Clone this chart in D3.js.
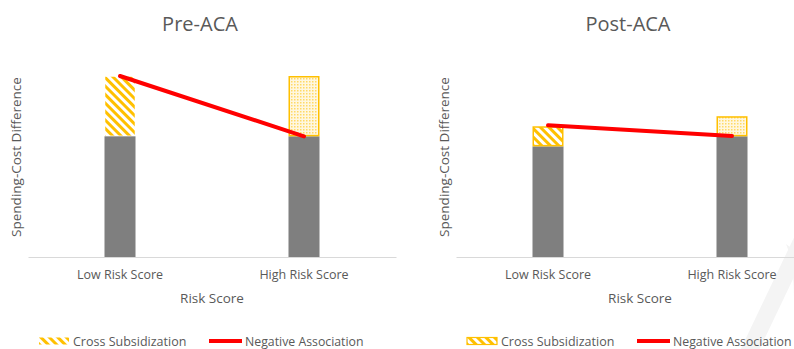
<!DOCTYPE html>
<html>
<head>
<meta charset="utf-8">
<script src="https://cdn.jsdelivr.net/npm/d3@7"></script>
<style>
  body { margin: 0; background: #fff; }
  text { font-family: "Open Sans", sans-serif; fill: #595959; }
</style>
</head>
<body>
<div id="container"></div>
<script>
/* DATA */
const categories = ["Low Risk Score", "High Risk Score"];
const titles = ["Pre-ACA", "Post-ACA"];
const preBase = [6, 6];          // gray part
const preTop = [9, 9];           // top of the patterned part
const preLine = [9, 6];          // negative association line
const postBase = [5.5, 6];
const postTop = [6.5, 7];
const postLine = [6.55, 6.02];
const legendLabels = ["Cross Subsidization", "Negative Association"];

/* CONSTANTS */
const width = 794, height = 349,
  colors = { gray: '#7f7f7f', gold: '#FFC000', red: '#FF0000', axis: '#d9d9d9' };

const svg = d3.select("#container")
  .append("svg")
  .attr("width", width)
  .attr("height", height);

// patterns
const defs = svg.append("defs");
const stripes = defs.append("pattern")
  .attr("id", "stripes")
  .attr("patternUnits", "userSpaceOnUse")
  .attr("width", 6).attr("height", 6)
  .attr("patternTransform", "rotate(-45)");
stripes.append("rect").attr("width", 6).attr("height", 6).attr("fill", "#fff");
stripes.append("rect").attr("width", 3).attr("height", 6).attr("fill", colors.gold);

const dots = defs.append("pattern")
  .attr("id", "dots")
  .attr("patternUnits", "userSpaceOnUse")
  .attr("width", 3).attr("height", 3);
dots.append("rect").attr("width", 3).attr("height", 3).attr("fill", "#fff7e0");
dots.append("rect").attr("width", 1.5).attr("height", 1.5).attr("fill", "#ffd966");

// faint watermark in the corner
svg.append("line")
  .attr("x1", 745).attr("y1", 360).attr("x2", 806).attr("y2", 232)
  .attr("stroke", "#f4f4f4").attr("stroke-width", 17);
svg.append("path")
  .attr("d", "M786,244 Q794,262 794,300 L794,250 Z")
  .attr("fill", "#f4f4f4");

const yScale = d3.scaleLinear().domain([0, 9]).range([257, 76]);

function drawPanel(dx, title, base, top, line, stripeBorder) {
  const g = svg.append("g").attr("transform", `translate(${dx},0)`);

  const xScale = d3.scaleBand()
    .domain(categories)
    .range([28, 396])
    .padding(0);

  const xAxis = d3.axisBottom(xScale).tickSize(0).tickSizeOuter(0);
  const ax = g.append("g")
    .attr("transform", `translate(0,${yScale(0)})`)
    .call(xAxis);
  ax.select(".domain").attr("stroke", colors.axis).attr("stroke-width", 1.2);
  ax.selectAll("text")
    .attr("dy", 0).attr("y", 22)
    .style("font-family", '"Open Sans", sans-serif')
    .style("font-size", "12.5px")
    .attr("fill", "#595959");

  const bw = 31;
  const cx = d => xScale(d) + xScale.bandwidth() / 2;

  // gray bars
  g.selectAll(".base")
    .data(categories)
    .join("rect")
    .attr("class", "base")
    .attr("x", d => cx(d) - bw / 2)
    .attr("width", bw)
    .attr("y", (d, i) => yScale(base[i]))
    .attr("height", (d, i) => yScale(0) - yScale(base[i]))
    .attr("fill", colors.gray);

  // patterned tops
  g.selectAll(".cap")
    .data(categories)
    .join("rect")
    .attr("class", "cap")
    .attr("x", d => cx(d) - bw / 2 + 0.75)
    .attr("width", bw - 1.5)
    .attr("y", (d, i) => yScale(top[i]) + 0.75)
    .attr("height", (d, i) => yScale(base[i]) - yScale(top[i]) - 1.5)
    .attr("fill", (d, i) => i === 0 ? "url(#stripes)" : "url(#dots)")
    .attr("stroke", (d, i) => (i === 0 && !stripeBorder) ? "none" : colors.gold)
    .attr("stroke-width", 1.5);

  // negative association line
  g.append("path")
    .datum(categories)
    .attr("d", d3.line().x(d => cx(d)).y((d, i) => yScale(line[i])))
    .attr("fill", "none")
    .attr("stroke", colors.red)
    .attr("stroke-width", 4)
    .attr("stroke-linecap", "round");

  // titles
  g.append("text")
    .attr("x", 200).attr("y", 31)
    .attr("text-anchor", "middle")
    .style("font-size", "20px")
    .text(title);

  g.append("text")
    .attr("x", 212).attr("y", 303)
    .attr("text-anchor", "middle")
    .style("font-size", "13.5px")
    .text("Risk Score");

  g.append("text")
    .attr("transform", `translate(21,157) rotate(-90)`)
    .attr("text-anchor", "middle")
    .style("font-size", "13.5px")
    .text("Spending-Cost Difference");

  // legend
  const lg = g.append("g").attr("transform", "translate(0,341)");
  lg.append("rect")
    .attr("x", 39).attr("y", -3.5)
    .attr("width", 30).attr("height", 7)
    .attr("fill", "url(#stripes)")
    .attr("stroke", stripeBorder ? colors.gold : "none")
    .attr("stroke-width", 1.2);
  lg.append("text")
    .attr("x", 73).attr("y", 4.5)
    .style("font-size", "12.5px")
    .text(legendLabels[0]);
  lg.append("line")
    .attr("x1", 209).attr("x2", 242)
    .attr("y1", 0).attr("y2", 0)
    .attr("stroke", colors.red)
    .attr("stroke-width", 4);
  lg.append("text")
    .attr("x", 245).attr("y", 4.5)
    .style("font-size", "12.3px")
    .text(legendLabels[1]);
}

drawPanel(0, titles[0], preBase, preTop, preLine, false);
drawPanel(428, titles[1], postBase, postTop, postLine, true);
</script>
</body>
</html>
